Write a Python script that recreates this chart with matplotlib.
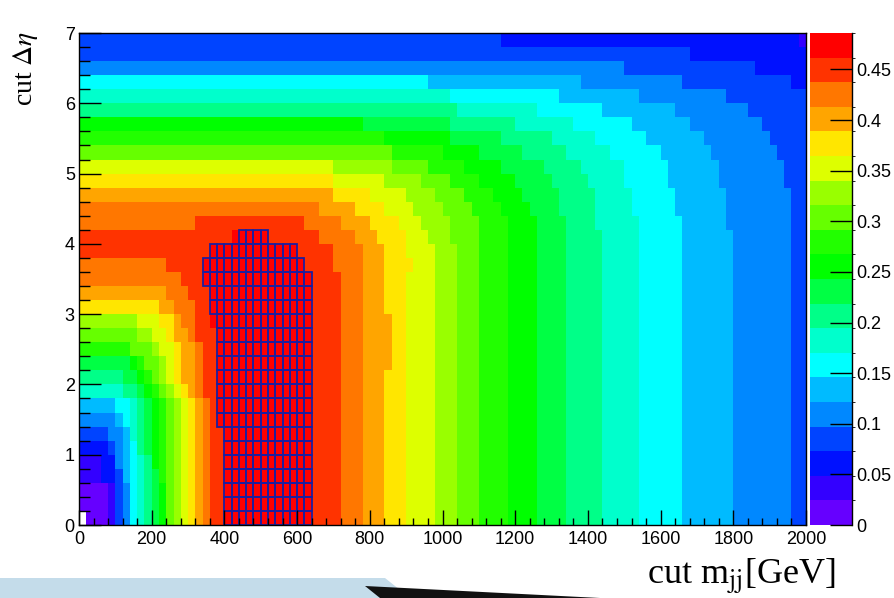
import numpy as np
import matplotlib
matplotlib.use('Agg')
import matplotlib.pyplot as plt
from matplotlib.colors import ListedColormap, BoundaryNorm
from matplotlib.patches import Rectangle, Polygon
from matplotlib.ticker import MultipleLocator, FormatStrFormatter

# ======================
# DATA
# ======================

# colour scale: 20 bands from 0 to the histogram maximum
z_max = 0.486
palette = ['#6600ff', '#3300ff', '#0011ff', '#0044ff', '#0088ff', '#00bbff',
           '#00ffff', '#00ffcc', '#00ff88', '#00ff44', '#00ff00', '#22ff00',
           '#66ff00', '#99ff00', '#ddff00', '#ffe600', '#ffa500', '#ff7700',
           '#ff3300', '#ff0000']
cbar_ticks = [0, 0.05, 0.1, 0.15, 0.2, 0.25, 0.3, 0.35, 0.4, 0.45]

# binning: m_jj cut in 20 GeV steps, delta-eta cut in 0.2 steps
mjj_edges = np.arange(0, 2001, 20)
deta_edges = np.linspace(0, 7, 36)

# right hand part shared by the low delta-eta rows: (band, upper m_jj edge)
tail_low = [(18, 720), (17, 780), (16, 840), (15, 900), (14, 980), (13, 1040),
            (12, 1100), (11, 1180), (10, 1260), (9, 1340), (8, 1440), (7, 1540),
            (6, 1660), (5, 1800), (4, 1960), (3, 2000)]
tail_mid = [(18, 720), (17, 780), (16, 860), (15, 900), (14, 980), (13, 1040),
            (12, 1100), (11, 1180), (10, 1260), (9, 1340), (8, 1440), (7, 1540),
            (6, 1660), (5, 1800), (4, 1960), (3, 2000)]

# one entry per delta-eta row (bottom to top), runs of (band, upper m_jj edge)
# band -1 = empty bin
row_runs = [
    [(-1, 20), (0, 80), (1, 100), (3, 120), (4, 140), (6, 160), (7, 180), (8, 200), (9, 220),
     (10, 240), (12, 260), (13, 280), (14, 300), (15, 320), (16, 340), (17, 360), (18, 400),
     (19, 640)] + tail_low,
    [(0, 80), (1, 100), (3, 120), (4, 140), (6, 160), (7, 180), (8, 200), (9, 220),
     (10, 240), (12, 260), (13, 280), (14, 300), (15, 320), (16, 340), (17, 360), (18, 400),
     (19, 640)] + tail_low,
    [(0, 80), (1, 100), (3, 120), (4, 140), (6, 160), (7, 180), (8, 200), (9, 220),
     (10, 240), (12, 260), (13, 280), (14, 300), (15, 320), (16, 340), (17, 360), (18, 400),
     (19, 640)] + tail_low,
    [(1, 60), (2, 100), (3, 120), (5, 140), (6, 160), (7, 180), (8, 200), (9, 220),
     (11, 240), (12, 260), (13, 280), (14, 300), (15, 320), (16, 340), (17, 360), (18, 400),
     (19, 640)] + tail_low,
    [(1, 60), (2, 100), (4, 120), (5, 140), (6, 160), (7, 180), (8, 200), (10, 220),
     (11, 240), (12, 260), (13, 280), (14, 300), (15, 320), (16, 340), (17, 360), (18, 400),
     (19, 640)] + tail_low,
    [(2, 80), (3, 100), (4, 120), (5, 140), (6, 160), (8, 180), (9, 200), (10, 220),
     (11, 240), (12, 260), (13, 280), (14, 300), (15, 320), (16, 340), (17, 360), (18, 400),
     (19, 640)] + tail_low,
    [(3, 80), (4, 120), (5, 140), (7, 160), (8, 180), (9, 200), (10, 220),
     (11, 240), (12, 260), (13, 280), (14, 300), (15, 320), (16, 340), (17, 360), (18, 400),
     (19, 640)] + tail_low,
    [(4, 100), (5, 120), (6, 140), (7, 160), (8, 180), (9, 200), (10, 220), (11, 240),
     (12, 260), (13, 280), (14, 300), (15, 320), (16, 340), (17, 360), (18, 380),
     (19, 640)] + tail_low,
    [(5, 100), (6, 140), (7, 160), (8, 180), (9, 200), (10, 220), (11, 240),
     (12, 260), (13, 280), (14, 300), (15, 320), (16, 340), (17, 360), (18, 380),
     (19, 640)] + tail_low,
    [(7, 120), (8, 160), (9, 180), (10, 200), (11, 220), (12, 240), (13, 260), (14, 280),
     (15, 300), (16, 320), (17, 340), (18, 380), (19, 640)] + tail_low,
    [(8, 120), (9, 160), (10, 180), (11, 200), (12, 220), (13, 240), (14, 260), (15, 280),
     (16, 320), (17, 340), (18, 380), (19, 640)] + tail_low,
    [(9, 140), (10, 160), (11, 180), (12, 220), (13, 240), (14, 260), (15, 280),
     (16, 320), (17, 340), (18, 380), (19, 640)] + tail_mid,
    [(11, 140), (12, 200), (13, 220), (14, 260), (15, 280), (16, 320), (17, 340), (18, 380),
     (19, 640)] + tail_mid,
    [(12, 160), (13, 200), (14, 240), (15, 260), (16, 300), (17, 320), (18, 380),
     (19, 640)] + tail_mid,
    [(13, 160), (14, 220), (15, 260), (16, 280), (17, 320), (18, 360), (19, 640)] + tail_mid,
    [(15, 220), (16, 260), (17, 320), (18, 360), (19, 640)] + tail_low,
    [(16, 240), (17, 300), (18, 360), (19, 640)] + tail_low,
    [(17, 280), (18, 340), (19, 640)] + tail_low,
    [(17, 240), (18, 340), (19, 620), (18, 700), (17, 780), (16, 840), (15, 920), (14, 980),
     (13, 1040), (12, 1100), (11, 1180), (10, 1260), (9, 1340), (8, 1440), (7, 1540),
     (6, 1660), (5, 1800), (4, 1960), (3, 2000)],
    [(18, 360), (19, 600), (18, 700), (17, 780), (16, 840), (15, 900), (14, 980), (13, 1040),
     (12, 1100), (11, 1180), (10, 1260), (9, 1340), (8, 1440), (7, 1540), (6, 1660),
     (5, 1800), (4, 1960), (3, 2000)],
    [(18, 420), (19, 520), (18, 660), (17, 760), (16, 820), (15, 900), (14, 960), (13, 1020),
     (12, 1100), (11, 1180), (10, 1260), (9, 1340), (8, 1440), (7, 1540), (6, 1660),
     (5, 1800), (4, 1960), (3, 2000)],
    [(17, 320), (18, 620), (17, 720), (16, 800), (15, 880), (14, 940), (13, 1020), (12, 1100),
     (11, 1180), (10, 1260), (9, 1340), (8, 1420), (7, 1540), (6, 1660), (5, 1780),
     (4, 1960), (3, 2000)],
    [(17, 660), (16, 760), (15, 840), (14, 920), (13, 1000), (12, 1080), (11, 1160),
     (10, 1240), (9, 1320), (8, 1420), (7, 1520), (6, 1640), (5, 1780), (4, 1960), (3, 2000)],
    [(16, 700), (15, 800), (14, 900), (13, 980), (12, 1060), (11, 1140), (10, 1220),
     (9, 1320), (8, 1420), (7, 1520), (6, 1640), (5, 1780), (4, 1960), (3, 2000)],
    [(15, 700), (14, 840), (13, 940), (12, 1020), (11, 1100), (10, 1200), (9, 1300),
     (8, 1400), (7, 1500), (6, 1620), (5, 1760), (4, 1940), (3, 2000)],
    [(14, 700), (13, 860), (12, 960), (11, 1060), (10, 1160), (9, 1280), (8, 1380),
     (7, 1500), (6, 1620), (5, 1760), (4, 1940), (3, 2000)],
    [(12, 860), (11, 1000), (10, 1100), (9, 1220), (8, 1340), (7, 1460), (6, 1600),
     (5, 1740), (4, 1920), (3, 2000)],
    [(11, 840), (10, 1020), (9, 1160), (8, 1300), (7, 1420), (6, 1560), (5, 1720),
     (4, 1900), (3, 2000)],
    [(10, 780), (9, 1020), (8, 1200), (7, 1360), (6, 1520), (5, 1680), (4, 1880), (3, 2000)],
    [(8, 1040), (7, 1260), (6, 1440), (5, 1640), (4, 1840), (3, 2000)],
    [(7, 1020), (6, 1320), (5, 1540), (4, 1780), (3, 2000)],
    [(6, 960), (5, 1380), (4, 1660), (3, 1960), (2, 2000)],
    [(4, 1500), (3, 1860), (2, 2000)],
    [(3, 1680), (2, 2000)],
    [(3, 1160), (2, 1980), (1, 2000)],
]

# boxed (best) cells per delta-eta row: first and last m_jj edge
box_lo = [400, 400, 400, 400, 400, 400, 400, 380, 380, 380, 380, 380, 380, 380, 380,
          360, 360, 340, 340, 360, 440]
box_hi = [640, 640, 640, 640, 640, 640, 640, 640, 640, 640, 640, 640, 640, 640, 640,
          640, 640, 640, 620, 600, 520]

# ======================
# PLOT
# ======================

W, H = 894, 598
fig = plt.figure(figsize=(W / 100, H / 100), dpi=100)
plt.rcParams['mathtext.fontset'] = 'stix'

def fx(px):
    return px / W

def fy(py):
    return 1 - py / H

ax = fig.add_axes([fx(79), fy(525), fx(806) - fx(79), fy(33) - fy(525)])

n_bands = len(palette)
cmap = ListedColormap(palette)
cmap.set_bad('white')
norm = BoundaryNorm(np.linspace(0, z_max, n_bands + 1), n_bands)

grid = np.full((len(deta_edges) - 1, len(mjj_edges) - 1), np.nan)
for i, runs in enumerate(row_runs):
    lo = 0
    for band, hi in runs:
        if band >= 0:
            grid[i, lo // 20:hi // 20] = (band + 0.5) * z_max / n_bands
        lo = hi

mesh = ax.pcolormesh(mjj_edges, deta_edges, np.ma.masked_invalid(grid), cmap=cmap,
                     norm=norm, shading='flat', antialiased=False, linewidth=0)

for i in range(len(box_lo)):
    for x0 in range(box_lo[i], box_hi[i], 20):
        ax.add_patch(Rectangle((x0, deta_edges[i]), 20, 0.2, fill=False,
                               edgecolor='#1e1e9e', linewidth=1.3))

ax.set_xlim(0, 2000)
ax.set_ylim(0, 7)
ax.xaxis.set_major_locator(MultipleLocator(200))
ax.xaxis.set_minor_locator(MultipleLocator(40))
ax.yaxis.set_major_locator(MultipleLocator(1))
ax.yaxis.set_minor_locator(MultipleLocator(0.2))
ax.tick_params(axis='x', which='major', direction='in', length=10.8, width=1, pad=4)
ax.tick_params(axis='x', which='minor', direction='in', length=5.4, width=1)
ax.tick_params(axis='y', which='major', direction='in', length=15.7, width=1, pad=3)
ax.tick_params(axis='y', which='minor', direction='in', length=7.9, width=1)
for lab in ax.get_xticklabels() + ax.get_yticklabels():
    lab.set_fontfamily('Liberation Sans')
    lab.set_fontsize(13)
for sp in ax.spines.values():
    sp.set_linewidth(1)

# colour bar
cax = fig.add_axes([fx(810), fy(525), fx(852) - fx(810), fy(33) - fy(525)])
cb = fig.colorbar(mesh, cax=cax, ticks=cbar_ticks)
cb.outline.set_visible(False)
cax.yaxis.set_ticks_position('right')
cax.yaxis.set_major_formatter(FormatStrFormatter('%g'))
cax.tick_params(direction='in', length=16, width=1, pad=3)
for lab in cax.get_yticklabels():
    lab.set_fontfamily('Liberation Sans')
    lab.set_fontsize(13)
cax.plot([1, 1], [0, 1], transform=cax.transAxes, color='black', lw=1, clip_on=False)

# axis titles (slide text)
fig.text(fx(26), fy(68), 'cut $\\Delta\\eta$', rotation=90, ha='center', va='center',
         family='Liberation Serif', fontsize=20)
fig.text(fx(836), fy(577), 'cut m$_{\\mathrm{jj}}$[GeV]', ha='right', va='center',
         family='Liberation Serif', fontsize=26)

# slide footer decoration
fig.patches.append(Polygon([(fx(0), fy(578)), (fx(385), fy(578)), (fx(410), fy(598)),
                            (fx(0), fy(598))], closed=True, transform=fig.transFigure,
                           facecolor='#c4dcea', edgecolor='none'))
fig.patches.append(Polygon([(fx(365), fy(586)), (fx(600), fy(598)), (fx(380), fy(598))],
                           closed=True, transform=fig.transFigure,
                           facecolor='#111111', edgecolor='none'))

plt.savefig('out.png', dpi=100)
